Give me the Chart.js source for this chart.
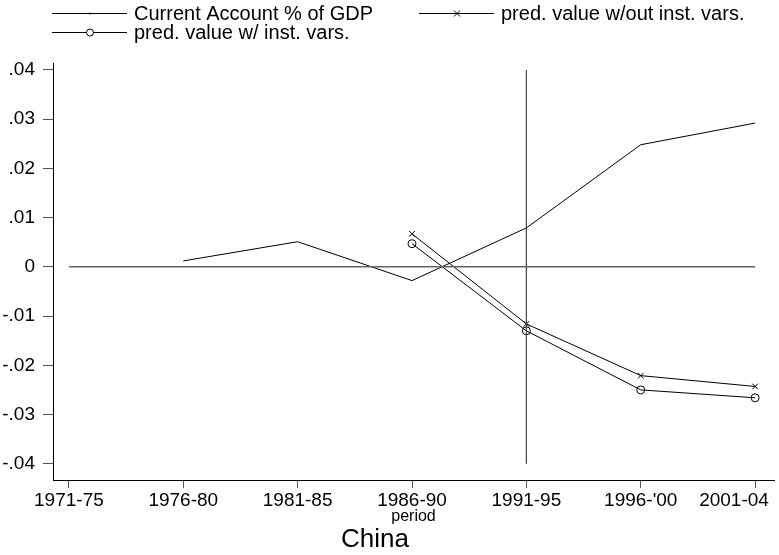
<!DOCTYPE html>
<html>
<head>
<meta charset="utf-8">
<script src="https://cdn.jsdelivr.net/npm/chart.js@4.4.0/dist/chart.umd.min.js"></script>
<style>
  html, body { margin: 0; padding: 0; background: #fff; }
</style>
</head>
<body>
<canvas id="chart" width="779" height="555"></canvas>
<script>
// data
const periods = ['1971-75', '1976-80', '1981-85', '1986-90', '1991-95', "1996-'00", '2001-04'];
const currentAccount = [null, 0.0012, 0.0051, -0.0028, 0.0079, 0.0248, 0.0292];
const predNoInst = [null, null, null, 0.0067, -0.0116, -0.0221, -0.0243];
const predInst = [null, null, null, 0.0047, -0.0130, -0.0250, -0.0266];
const yTicks = [-0.04, -0.03, -0.02, -0.01, 0, 0.01, 0.02, 0.03, 0.04];
// reference lines: y = 0 across all periods, vertical at 1991-95
const zeroLine = [{x: 0, y: 0}, {x: 6, y: 0}];
const breakLine = [{x: 4, y: -0.04}, {x: 4, y: 0.04}];

const FONT = "'Liberation Sans', Arial, sans-serif";

function toPoints(arr) {
    return arr.map((v, i) => ({x: i, y: v})).filter(p => p.y !== null);
}

function fmtY(v) {
    if (v === 0) return '0';
    return (v < 0 ? '-' : '') + Math.abs(v).toFixed(2).replace(/^0/, '');
}

// legend drawn by hand: stata style line with marker in the middle
const stataLegend = {
    id: 'stataLegend',
    afterDraw(chart) {
        const ctx = chart.ctx;
        const items = [
            {x: 52, y: 13, text: 'Current Account % of GDP', marker: 'dot'},
            {x: 419, y: 13, text: 'pred. value w/out inst. vars.', marker: 'cross'},
            {x: 52, y: 32, text: 'pred. value w/ inst. vars.', marker: 'circle'}
        ];
        ctx.save();
        ctx.strokeStyle = '#000';
        ctx.fillStyle = '#000';
        ctx.lineWidth = 1;
        ctx.font = '20px ' + FONT;
        ctx.textBaseline = 'middle';
        items.forEach(it => {
            ctx.beginPath();
            ctx.moveTo(it.x, it.y + 0.5);
            ctx.lineTo(it.x + 75, it.y + 0.5);
            ctx.stroke();
            const mx = it.x + 38, my = it.y + 0.5;
            ctx.beginPath();
            if (it.marker === 'cross') {
                ctx.moveTo(mx - 3, my - 3); ctx.lineTo(mx + 3, my + 3);
                ctx.moveTo(mx + 3, my - 3); ctx.lineTo(mx - 3, my + 3);
                ctx.stroke();
            } else if (it.marker === 'circle') {
                ctx.fillStyle = '#fff';
                ctx.arc(mx, my, 3.5, 0, Math.PI * 2);
                ctx.fill();
                ctx.stroke();
                ctx.fillStyle = '#000';
            } else {
                ctx.fillRect(mx - 0.5, my - 1, 1, 2);
            }
            ctx.fillText(it.text, it.x + 82, it.y + 1);
        });
        ctx.restore();
    }
};

new Chart(document.getElementById('chart'), {
    type: 'line',
    data: {
        datasets: [
            {
                label: 'zero',
                data: zeroLine,
                borderColor: '#666',
                borderWidth: 1.5,
                pointRadius: 0
            },
            {
                label: 'break',
                data: breakLine,
                borderColor: '#444',
                borderWidth: 1.2,
                pointRadius: 0
            },
            {
                label: 'Current Account % of GDP',
                data: toPoints(currentAccount),
                borderColor: '#000',
                borderWidth: 1,
                pointRadius: 0
            },
            {
                label: 'pred. value w/out inst. vars.',
                data: toPoints(predNoInst),
                borderColor: '#000',
                borderWidth: 1,
                pointStyle: 'crossRot',
                pointRadius: 4,
                pointBorderColor: '#000',
                pointBorderWidth: 1
            },
            {
                label: 'pred. value w/ inst. vars.',
                data: toPoints(predInst),
                borderColor: '#000',
                borderWidth: 1,
                pointStyle: 'circle',
                pointRadius: 4,
                pointBackgroundColor: 'rgba(255,255,255,0)',
                pointBorderColor: '#000',
                pointBorderWidth: 1
            }
        ]
    },
    options: {
        responsive: false,
        animation: false,
        devicePixelRatio: 1,
        layout: { padding: { top: 63, left: 0, right: 0, bottom: 0 } },
        plugins: {
            legend: { display: false },
            tooltip: { enabled: false },
            title: {
                display: true,
                // trailing spaces nudge the title left, as in the original
                text: 'China    ',
                position: 'bottom',
                color: '#000',
                font: { family: FONT, size: 26, weight: 'normal', lineHeight: 1 },
                padding: { top: 0, bottom: 2 }
            }
        },
        scales: {
            x: {
                type: 'linear',
                min: -0.139,
                max: 6.165,
                afterBuildTicks: s => { s.ticks = periods.map((p, i) => ({value: i})); },
                afterFit: s => { s.height = 47; s.paddingLeft = 0; s.paddingRight = 0; },
                ticks: {
                    // last label pushed left a little so it fits, like the original
                    callback: (v, i) => i === periods.length - 1 ? periods[i] + '        ' : periods[i],
                    color: '#000',
                    font: { family: FONT, size: 19 },
                    padding: 1,
                    maxRotation: 0,
                    autoSkip: false
                },
                grid: { drawOnChartArea: false, drawTicks: true, tickLength: 8, color: '#555' },
                border: { color: '#000', width: 1 },
                title: {
                    display: true,
                    text: 'period',
                    color: '#000',
                    font: { family: FONT, size: 16 },
                    padding: { top: 0, bottom: 1 }
                }
            },
            y: {
                type: 'linear',
                min: -0.0433,
                max: 0.0414,
                afterBuildTicks: s => { s.ticks = yTicks.map(v => ({value: v})); },
                afterFit: s => { s.width = 53; s.paddingTop = 0; s.paddingBottom = 0; },
                ticks: {
                    callback: v => fmtY(v),
                    color: '#000',
                    font: { family: FONT, size: 19 },
                    padding: 8
                },
                grid: { drawOnChartArea: false, drawTicks: true, tickLength: 10, color: '#555' },
                border: { color: '#000', width: 1 }
            }
        }
    },
    plugins: [stataLegend]
});
</script>
</body>
</html>
